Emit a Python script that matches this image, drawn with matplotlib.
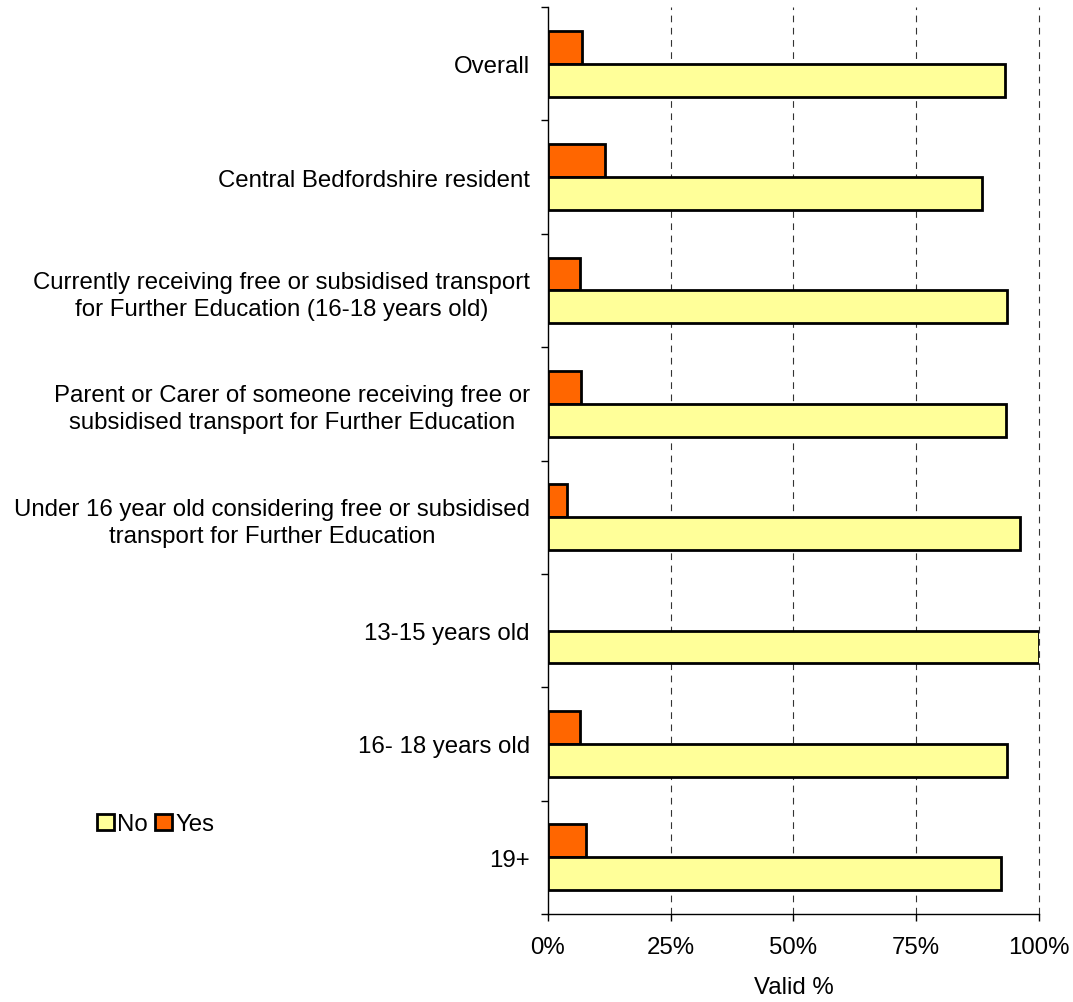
import numpy as np
import matplotlib.pyplot as plt
from matplotlib.patches import Patch

plt.rcParams['font.family'] = ['Liberation Sans', 'DejaVu Sans']

categories = [
    "Overall",
    "Central Bedfordshire resident",
    "Currently receiving free or subsidised transport\nfor Further Education (16-18 years old)",
    "Parent or Carer of someone receiving free or\nsubsidised transport for Further Education",
    "Under 16 year old considering free or subsidised\ntransport for Further Education",
    "13-15 years old",
    "16- 18 years old",
    "19+",
]
yes_pct = [7.0, 11.7, 6.5, 6.7, 3.9, 0.0, 6.5, 7.8]
no_pct = [93.0, 88.3, 93.5, 93.3, 96.1, 100.0, 93.5, 92.2]
x_ticks = [0, 25, 50, 75, 100]
x_ticklabels = ["0%", "25%", "50%", "75%", "100%"]

FS = 17.3

fig = plt.figure(figsize=(10.73, 10.03), dpi=100)
ax = fig.add_axes([0.5107, 0.0877, 0.4576, 0.9043])

y = np.arange(len(categories))
h = 0.29
# no outline for empty bars
yes_lw = [2.0 if v > 0 else 0 for v in yes_pct]
ax.barh(y - h / 2, yes_pct, height=h, color="#FF6600", edgecolor="black", linewidth=yes_lw, zorder=3)
ax.barh(y + h / 2, no_pct, height=h, color="#FFFF99", edgecolor="black", linewidth=2.0, zorder=3)

ax.set_ylim(len(categories) - 0.5, -0.5)
ax.set_xlim(0, 100)

# category labels
ax.set_yticks(y)
ax.set_yticklabels(categories, fontsize=FS)
for lbl in ax.get_yticklabels():
    lbl.set_multialignment("center")
    lbl.set_linespacing(1.3)
ax.tick_params(axis="y", which="major", length=0, pad=13)
ax.set_yticks(np.arange(len(categories) + 1) - 0.5, minor=True)
ax.tick_params(axis="y", which="minor", length=5, width=1, direction="out")

ax.set_xticks(x_ticks)
ax.set_xticklabels(x_ticklabels, fontsize=FS)
ax.tick_params(axis="x", length=5, width=1, direction="out", pad=11)
ax.set_xlabel("Valid %", fontsize=FS, labelpad=13)

for v in x_ticks[1:]:
    ax.axvline(v, color="#333333", linestyle=(0, (6, 5)), linewidth=0.8, zorder=1, clip_on=False)

ax.spines["top"].set_visible(False)
ax.spines["right"].set_visible(False)
for s in ["left", "bottom"]:
    ax.spines[s].set_linewidth(1.0)
    ax.spines[s].set_color("black")

handles = [
    Patch(facecolor="#FFFF99", edgecolor="black", linewidth=2.0, label="No"),
    Patch(facecolor="#FF6600", edgecolor="black", linewidth=2.0, label="Yes"),
]
fig.legend(handles=handles, loc="center left", bbox_to_anchor=(0.079, 0.177),
           ncol=2, frameon=False, fontsize=FS, handlelength=0.7, handleheight=0.7,
           handletextpad=0.15, columnspacing=0.3, borderpad=0)

fig.savefig("out.png", dpi=100)
